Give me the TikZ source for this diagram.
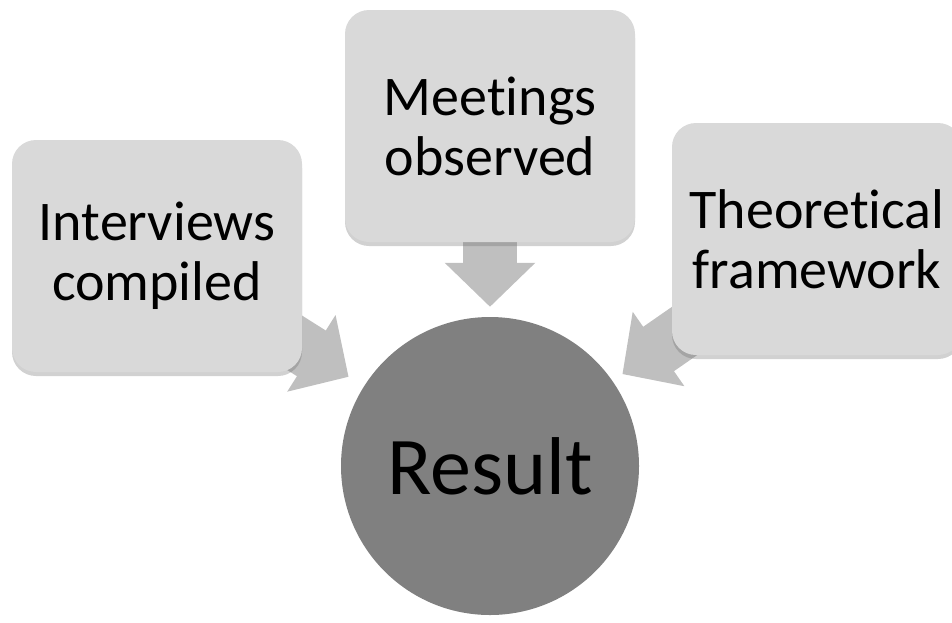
\documentclass[tikz,border=0pt]{standalone}
\usepackage{fontspec}
\setmainfont{Carlito}[Ligatures=NoCommon]
\usetikzlibrary{arrows.meta,shadows,positioning}
\definecolor{sourceColor}{RGB}{217,217,217}
\definecolor{flowColor}{RGB}{191,191,191}
\definecolor{resultColor}{RGB}{128,128,128}
\tikzset{source/.style={fill=sourceColor, align=center, minimum width=290pt, minimum height=232pt, rounded corners=24pt, font=\fontsize{56}{60}\selectfont, drop shadow={shadow xshift=0pt, shadow yshift=-4pt, opacity=.3, fill=black!60}}}
\tikzset{result/.style={circle, fill=resultColor, minimum size=298pt, inner sep=0pt, font=\fontsize{82}{90}\selectfont}}
\tikzset{flow/.style={line width=54pt, draw=flowColor, -{Triangle[length=44pt, width=88pt]}}}

\begin{document}
\begin{tikzpicture}[x=1pt, y=-1pt]
\pgfdeclarelayer{background}
\pgfsetlayers{background,main}
\useasboundingbox (0,0) rectangle (952,622);

% Nodes
\node (res) [result] at (490,466) {Result};
\node (inter) [source] at (157,256) {Interviews\\compiled};
\node (meet) [source] at (490,126) {Meetings\\observed};
\node (theory) [source] at (817,239) {Theoretical\\framework};

% Connectors
\begin{pgfonlayer}{background}
\draw [flow, shorten >=18pt] (inter.center) -- (res);
\draw [flow, shorten >=10pt] (meet.center) -- (res);
\draw [flow, shorten >=12pt] (theory.center) -- (res);
\end{pgfonlayer}

\end{tikzpicture}
\end{document}
